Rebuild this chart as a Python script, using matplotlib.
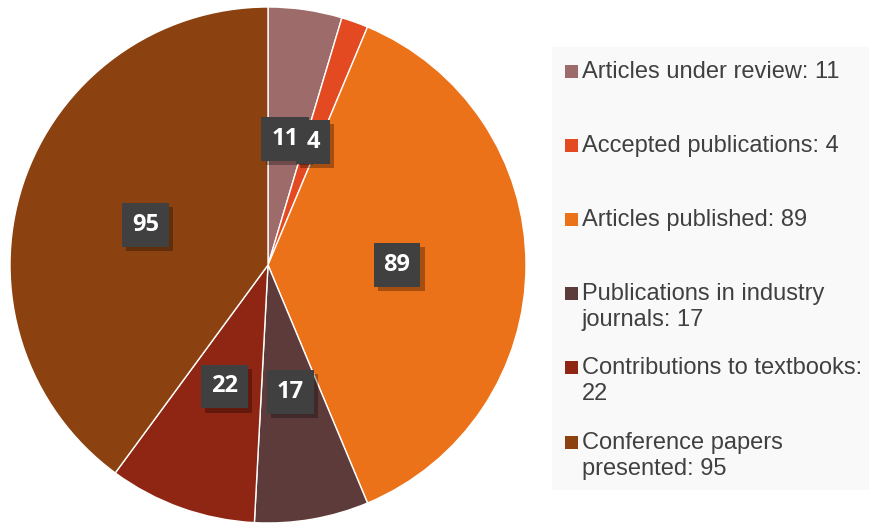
import matplotlib
matplotlib.use("Agg")
import matplotlib.pyplot as plt
import matplotlib.patheffects as pe
from matplotlib.patches import Rectangle
import numpy as np

categories = ["Articles under review", "Accepted publications", "Articles published",
              "Publications in industry journals", "Contributions to textbooks",
              "Conference papers presented"]
values = [11, 4, 89, 17, 22, 95]
legend_labels = ["Articles under review: 11", "Accepted publications: 4", "Articles published: 89",
                 "Publications in industry\njournals: 17", "Contributions to textbooks:\n22",
                 "Conference papers\npresented: 95"]
colors = ["#9e6b6b", "#e44a22", "#ec7219", "#5e3b3b", "#8f2613", "#8b4210"]

W, H = 870, 523
fig = plt.figure(figsize=(W / 100, H / 100), dpi=100)
ax = fig.add_axes([0, 0, 1, 1])

cx, cy, R = 268, H - 265, 258
wedges, _ = ax.pie(values, colors=colors, startangle=90, counterclock=False,
                   center=(cx, cy), radius=R, frame=True,
                   wedgeprops=dict(edgecolor="white", linewidth=1))
ax.set_xlim(0, W)
ax.set_ylim(0, H)
ax.set_aspect("equal")
ax.axis("off")

total = sum(values)
cum = 0
for i, v in enumerate(values):
    mid = 90 - (cum + v / 2) / total * 360
    cum += v
    r = 0.5 * R
    x = cx + r * np.cos(np.radians(mid))
    y = cy + r * np.sin(np.radians(mid))
    if i == 0:
        x, y = cx + 17, cy + 126
    if i == 1:
        x, y = cx + 45, cy + 123
    t = ax.text(x, y, str(v), ha="center", va="center", fontsize=17,
                fontweight="bold", color="white", family="Open Sans",
                bbox=dict(boxstyle="square,pad=0.42", facecolor="#404040", edgecolor="none"))
    t.get_bbox_patch().set_path_effects([
        pe.SimplePatchShadow(offset=(3, -3), shadow_rgbFace="black", alpha=0.3),
        pe.Normal()])

# legend box
ax.add_patch(Rectangle((552, H - 490), 318, 443, facecolor="#f9f9f9", edgecolor="none"))
rows = [71, 145, 219, 293, 367, 442]
for lab, col, yr in zip(legend_labels, colors, rows):
    ax.add_patch(Rectangle((565, H - yr - 6.5), 13, 13, facecolor=col, edgecolor="none"))
    ax.text(582, H - yr + 10, lab, ha="left", va="top", fontsize=17, color="#404040",
            family="Liberation Sans", linespacing=1.22)

fig.savefig("out.png", dpi=100)
